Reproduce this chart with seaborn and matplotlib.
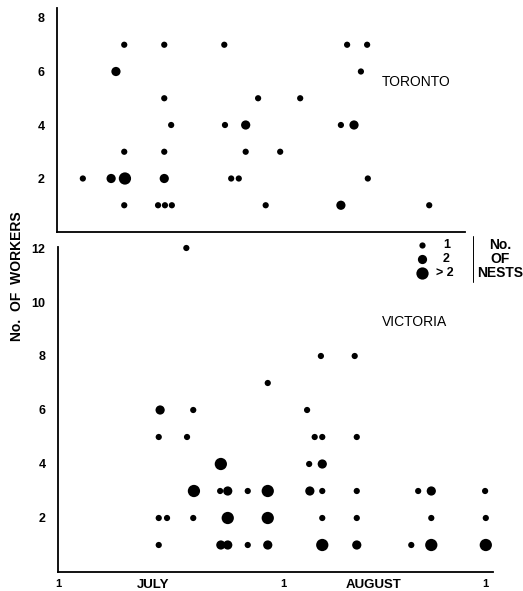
import matplotlib
matplotlib.use("Agg")
import matplotlib.pyplot as plt
import seaborn as sns
import pandas as pd
from matplotlib.lines import Line2D

sns.set_style("white")
plt.rcParams['font.family'] = ['Liberation Sans', 'DejaVu Sans']
plt.rcParams['text.color'] = 'black'
plt.rcParams['xtick.color'] = 'black'
plt.rcParams['ytick.color'] = 'black'

# Day of season (days after 1 July), number of workers, number of nests (3 = >2)
toronto_day = [3.6, 7.7, 9.7, 9.6, 9.6, 8.4, 9.6, 15.4, 15.4, 16.4, 15.4, 15.4,
               14.5, 15.5, 16.5, 24.1, 24.2, 27.2, 27.2, 25.1, 26.2, 29.0, 35.1,
               32.2, 30.1, 41.9, 44.8, 43.9, 41.0, 42.9, 44.9, 41.0, 53.8]
toronto_workers = [2, 2, 2, 1, 3, 6, 7, 7, 5, 4, 3, 2,
                   1, 1, 1, 7, 4, 4, 3, 2, 2, 5, 5,
                   3, 1, 7, 7, 6, 4, 4, 2, 1, 1]
toronto_nests = [1, 2, 3, 1, 1, 2, 1, 1, 1, 1, 1, 2,
                 1, 1, 1, 1, 1, 2, 1, 1, 1, 1, 1,
                 1, 1, 1, 1, 1, 1, 2, 1, 2, 1]

victoria_day = [18.6, 14.8, 19.6, 38.1, 43.0, 30.4, 36.1, 14.6, 18.7, 23.6, 19.7,
                23.5, 24.6, 27.5, 14.6, 15.8, 19.6, 24.6, 14.6, 23.6, 24.6, 27.5,
                37.2, 38.3, 43.3, 36.4, 38.3, 30.4, 36.5, 38.3, 43.3, 52.2, 54.1,
                61.9, 30.4, 38.3, 43.3, 54.1, 62.0, 30.4, 38.3, 43.3, 51.2, 54.1, 62.0]
victoria_workers = [12, 6, 6, 8, 8, 7, 6, 5, 5, 4, 3,
                    3, 3, 3, 2, 2, 2, 2, 1, 1, 1, 1,
                    5, 5, 5, 4, 4, 3, 3, 3, 3, 3, 3,
                    3, 2, 2, 2, 2, 2, 1, 1, 1, 1, 1, 1]
victoria_nests = [1, 2, 1, 1, 1, 1, 1, 1, 1, 3, 3,
                  1, 2, 1, 1, 1, 1, 3, 1, 2, 2, 1,
                  1, 1, 1, 1, 2, 3, 2, 1, 1, 1, 2,
                  1, 3, 1, 1, 1, 1, 2, 3, 2, 1, 3, 3]

top_yticks = [2, 4, 6, 8]
bottom_yticks = [2, 4, 6, 8, 10, 12]
xtick_days = [0, 32.6, 62]
xtick_labels = ["1", "1", "1"]
month_days = [13.8, 45.8]
month_labels = ["JULY", "AUGUST"]
legend_labels = ["1", "2", "> 2"]

sizes = {1: 20, 2: 44, 3: 78}

W, H = 523, 591
fig = plt.figure(figsize=(W / 100, H / 100), dpi=100)

px_per_day = 6.9
origin_px = 58

def fx(x):
    return x / W

def fy(y):
    return 1 - y / H

# top axes (Toronto)
t_left, t_right, t_top, t_bot = 57, 465, 8, 232
ax1 = fig.add_axes([fx(t_left), fy(t_bot), (t_right - t_left) / W, (t_bot - t_top) / H])
# bottom axes (Victoria)
b_left, b_right, b_top, b_bot = 58, 493, 247, 572
ax2 = fig.add_axes([fx(b_left), fy(b_bot), (b_right - b_left) / W, (b_bot - b_top) / H])

df_t = pd.DataFrame({"day": toronto_day, "workers": toronto_workers, "nests": toronto_nests})
df_v = pd.DataFrame({"day": victoria_day, "workers": victoria_workers, "nests": victoria_nests})

sns.scatterplot(data=df_t, x="day", y="workers", size="nests", sizes=sizes,
                color="black", linewidth=0, legend=False, ax=ax1)
sns.scatterplot(data=df_v, x="day", y="workers", size="nests", sizes=sizes,
                color="black", linewidth=0, legend=False, ax=ax2)
for ax in (ax1, ax2):
    for c in ax.collections:
        c.set_clip_on(False)

ax1.set_xlim((t_left - origin_px) / px_per_day, (t_right - origin_px) / px_per_day)
ax2.set_xlim((b_left - origin_px) / px_per_day, (b_right - origin_px) / px_per_day)
ax1.set_ylim(0, (t_bot - t_top) / 26.75)
ax2.set_ylim(0, (b_bot - b_top) / 27.0)

for ax in (ax1, ax2):
    for s in ("top", "right"):
        ax.spines[s].set_visible(False)
    for s in ("left", "bottom"):
        ax.spines[s].set_color("black")
        ax.spines[s].set_linewidth(1.3)
    ax.set_xlabel("")
    ax.set_ylabel("")
    ax.tick_params(axis="both", which="both", length=0)
    ax.set_facecolor("none")

ax1.set_yticks(top_yticks)
ax1.set_yticklabels([str(v) for v in top_yticks], fontsize=9, fontweight="bold")
ax1.set_xticks([])
ax1.tick_params(axis="y", pad=9)

ax2.set_yticks(bottom_yticks)
ax2.set_yticklabels([str(v) for v in bottom_yticks], fontsize=9, fontweight="bold")
ax2.tick_params(axis="y", pad=9)
ax2.set_xticks(xtick_days)
ax2.set_xticklabels(xtick_labels, fontsize=8, fontweight="bold")
ax2.set_xticks(month_days, minor=True)
ax2.set_xticklabels(month_labels, minor=True, fontsize=9.5, fontweight="bold")
ax2.tick_params(axis="x", which="both", pad=5)

fig.text(fx(382), fy(82), "TORONTO", fontsize=10, ha="left", va="center")
fig.text(fx(382), fy(322), "VICTORIA", fontsize=10, ha="left", va="center")

fig.text(fx(17), fy(276), "No.  OF  WORKERS", rotation=90, fontsize=10,
         fontweight="bold", ha="center", va="center")

# legend
rows = [245, 259, 273]
for (n, lab, yy) in zip([1, 2, 3], legend_labels, rows):
    fig.add_artist(Line2D([fx(422)], [fy(yy)], marker="o", linestyle="none",
                          markersize=sizes[n] ** 0.5, color="black",
                          markeredgewidth=0, transform=fig.transFigure))
    fig.text(fx(443) if n < 3 else fx(436), fy(yy), lab, fontsize=9,
             fontweight="bold", ha="left", va="center")
fig.add_artist(Line2D([fx(473), fx(473)], [fy(236), fy(282)], color="black",
                      linewidth=0.7, transform=fig.transFigure))
for lab, yy in zip(["No.", "OF", "NESTS"], rows):
    fig.text(fx(500), fy(yy), lab, fontsize=10, fontweight="bold",
             ha="center", va="center")

fig.savefig("out.png", dpi=100)
